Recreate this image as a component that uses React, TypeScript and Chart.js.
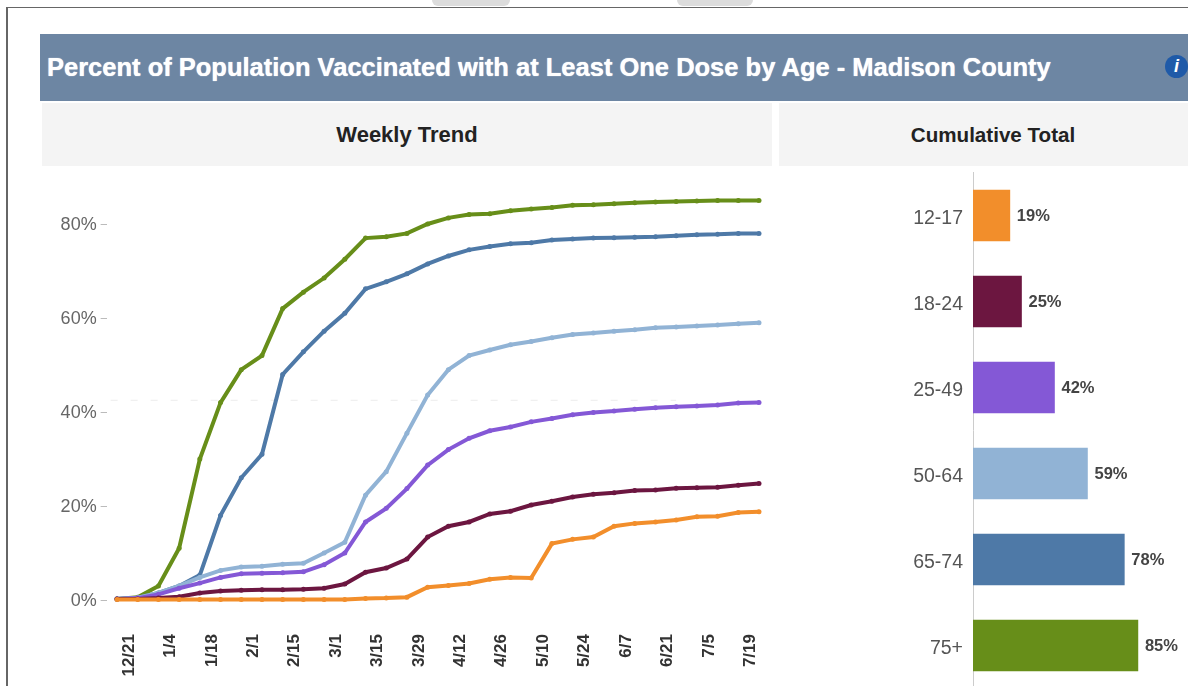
import React, { useEffect, useRef } from "react";
import { Chart, registerables } from "chart.js";

Chart.register(...registerables);

const weeks = ["12/21","12/28","1/4","1/11","1/18","1/25","2/1","2/8","2/15","2/22","3/1","3/8","3/15","3/22","3/29","4/5","4/12","4/19","4/26","5/3","5/10","5/17","5/24","5/31","6/7","6/14","6/21","6/28","7/5","7/12","7/19","7/26"];

const age1217 = [0.1,0.1,0.1,0.1,0.1,0.1,0.1,0.1,0.1,0.1,0.1,0.1,0.3,0.4,0.6,2.7,3.1,3.5,4.4,4.8,4.7,12,12.9,13.4,15.7,16.3,16.6,17,17.7,17.8,18.6,18.8];
const age1824 = [0.2,0.2,0.4,0.7,1.5,1.9,2.1,2.2,2.2,2.3,2.5,3.4,5.9,6.8,8.7,13.4,15.7,16.6,18.3,18.9,20.2,21,21.9,22.5,22.8,23.3,23.4,23.8,23.9,24,24.4,24.8];
const age2549 = [0.2,0.4,1.2,2.5,3.6,4.8,5.6,5.7,5.8,6,7.5,10,16.6,19.5,23.7,28.7,32,34.4,36,36.8,37.9,38.6,39.4,39.9,40.2,40.6,40.9,41.1,41.3,41.5,41.9,42];
const age5064 = [0.2,0.5,1.5,3,4.8,6.3,7,7.2,7.6,7.8,10,12.3,22.3,27.3,35.5,43.6,49,52,53.2,54.3,55,55.8,56.5,56.8,57.2,57.5,57.9,58.1,58.3,58.5,58.8,59];
const age6574 = [0.2,0.5,1.5,3,5.3,18,26,31,48,52.8,57.2,61,66.2,67.7,69.4,71.5,73.2,74.5,75.2,75.8,76,76.6,76.8,77,77.1,77.2,77.3,77.5,77.7,77.8,78,78];
const age75 = [0.2,0.6,3,11,30,42,49,52,62,65.5,68.5,72.5,77,77.3,78,80,81.3,82,82.2,82.8,83.2,83.5,84,84.1,84.3,84.5,84.7,84.8,84.9,85,85,85];

const ageGroups = ["12-17","18-24","25-49","50-64","65-74","75+"];
const cumulative = [19,25,42,59,78,85];
const colors = ["#F28E2B","#6C1640","#8458D6","#91B3D5","#4E79A7","#678E19"];
const series = [age1217, age1824, age2549, age5064, age6574, age75];
const guideValue = 42.5;
const guideEndWeek = "6/28";

function noScalePadding(scale: any) {
  scale.paddingTop = 0;
  scale.paddingBottom = 0;
  scale.paddingLeft = 0;
  scale.paddingRight = 0;
}

const guidePlugin = {
  id: "guide",
  beforeDatasetsDraw(chart: any) {
    const { ctx, scales } = chart;
    const y = scales.y.getPixelForValue(guideValue);
    ctx.save();
    ctx.strokeStyle = "#ececec";
    ctx.lineWidth = 1;
    ctx.setLineDash([7, 13]);
    ctx.beginPath();
    ctx.moveTo(scales.x.left + 4, y);
    ctx.lineTo(scales.x.getPixelForValue(weeks.indexOf(guideEndWeek)), y);
    ctx.stroke();
    ctx.restore();
  },
};

const barLabelPlugin = {
  id: "barLabels",
  afterDatasetsDraw(chart: any) {
    const { ctx } = chart;
    const meta = chart.getDatasetMeta(0);
    ctx.save();
    ctx.fillStyle = "#444";
    ctx.font = "bold 16.5px 'Liberation Sans'";
    ctx.textAlign = "left";
    ctx.textBaseline = "middle";
    meta.data.forEach((el: any, i: number) => {
      ctx.fillText(`${cumulative[i]}%`, el.x + 7, el.y + 1);
    });
    ctx.restore();
  },
};

export default function App() {
  const lineRef = useRef<HTMLCanvasElement>(null);
  const barRef = useRef<HTMLCanvasElement>(null);

  useEffect(() => {
    const line = new Chart(lineRef.current as HTMLCanvasElement, {
      type: "line",
      data: {
        labels: weeks,
        datasets: ageGroups.map((g, i) => ({
          label: g,
          data: series[i],
          borderColor: colors[i],
          backgroundColor: colors[i],
          borderWidth: 4,
          pointRadius: 2.5,
          pointBorderWidth: 0,
          tension: 0,
          clip: false as any,
        })),
      },
      options: {
        responsive: false,
        animation: false,
        layout: { autoPadding: false, padding: { top: 5, right: 0.65, left: 0, bottom: 0 } },
        plugins: { legend: { display: false }, tooltip: { enabled: false } },
        scales: {
          x: {
            offset: true,
            grid: { display: false },
            border: { display: false },
            afterFit(scale: any) { scale.height = 86; noScalePadding(scale); },
            ticks: {
              autoSkip: false,
              maxRotation: 90,
              minRotation: 90,
              padding: 26,
              labelOffset: 12,
              color: "#333",
              font: { family: "'Liberation Sans'", size: 17, weight: "bold" },
              callback(_v: any, i: number) { return i % 2 === 0 ? weeks[i] : ""; },
            },
          },
          y: {
            min: 0,
            max: 90,
            grid: { drawOnChartArea: false, drawTicks: true, tickLength: 6, color: "#bbb" },
            border: { display: false },
            afterFit(scale: any) { scale.width = 66.65; noScalePadding(scale); },
            ticks: {
              stepSize: 20,
              includeBounds: false,
              padding: 4,
              labelOffset: 1,
              color: "#666",
              font: { family: "'Liberation Sans'", size: 18 },
              callback(v: any) { return `${v}%`; },
            },
          },
        },
      },
      plugins: [guidePlugin],
    } as any);

    const bar = new Chart(barRef.current as HTMLCanvasElement, {
      type: "bar",
      data: {
        labels: ageGroups,
        datasets: [{ data: cumulative, backgroundColor: colors, barThickness: 51 }],
      },
      options: {
        indexAxis: "y",
        responsive: false,
        animation: false,
        layout: { autoPadding: false, padding: { top: 0.5, bottom: 0.5, right: 21, left: 0 } },
        plugins: { legend: { display: false }, tooltip: { enabled: false } },
        scales: {
          x: { display: false, min: 0, max: 100 },
          y: {
            grid: { display: false, drawTicks: false },
            border: { display: true, color: "#ccc", width: 1 },
            afterFit(scale: any) { scale.width = 193; noScalePadding(scale); },
            ticks: {
              padding: 10,
              labelOffset: 3,
              color: "#555",
              font: { family: "'Liberation Sans'", size: 19.5 },
            },
          },
        },
      },
      plugins: [barLabelPlugin],
    } as any);

    return () => {
      line.destroy();
      bar.destroy();
    };
  }, []);

  const abs = (l: number, t: number, w: number, h: number): React.CSSProperties => ({
    position: "absolute", left: l, top: t, width: w, height: h,
  });
  const sub: React.CSSProperties = {
    background: "#f4f4f4",
    color: "#222",
    fontWeight: "bold",
    textAlign: "center",
    lineHeight: "63px",
  };

  return (
    <div style={{ position: "fixed", left: 0, top: 0, width: 1188, height: 686, overflow: "hidden", background: "#fff", fontFamily: "'Liberation Sans'", filter: "blur(0.5px)" }}>
      <div style={{ ...abs(432, 0, 78, 6), background: "#dcdcdc", borderRadius: "0 0 14px 14px" }} />
      <div style={{ ...abs(677, 0, 76, 6), background: "#dcdcdc", borderRadius: "0 0 14px 14px" }} />
      <div style={{ ...abs(6, 7, 1182, 1), background: "#666" }} />
      <div style={{ ...abs(6, 7, 1.5, 679), background: "#666" }} />
      <div style={{ ...abs(40, 34, 1148, 67), background: "#6D86A3", color: "#fff", fontWeight: "bold", fontSize: 25.5, lineHeight: "67px", whiteSpace: "nowrap", textIndent: 7, textShadow: "0 0 1px #fff" }}>
        Percent of Population Vaccinated with at Least One Dose by Age - Madison County
      </div>
      <div style={{ ...abs(1165, 55, 23, 23), borderRadius: "50%", background: "#1F5AA8", color: "#fff", fontWeight: "bold", fontStyle: "italic", fontSize: 18, lineHeight: "23px", textAlign: "center" }}>i</div>
      <div style={{ ...abs(42, 103, 730, 63), ...sub, fontSize: 22 }}>Weekly Trend</div>
      <div style={{ ...abs(779, 103, 390, 63), ...sub, paddingLeft: 19, fontSize: 20.6 }}>Cumulative Total</div>
      <canvas ref={lineRef} width={730} height={514} style={abs(40, 172, 730, 514)} />
      <canvas ref={barRef} width={408} height={517} style={abs(780, 172, 408, 517)} />
    </div>
  );
}
